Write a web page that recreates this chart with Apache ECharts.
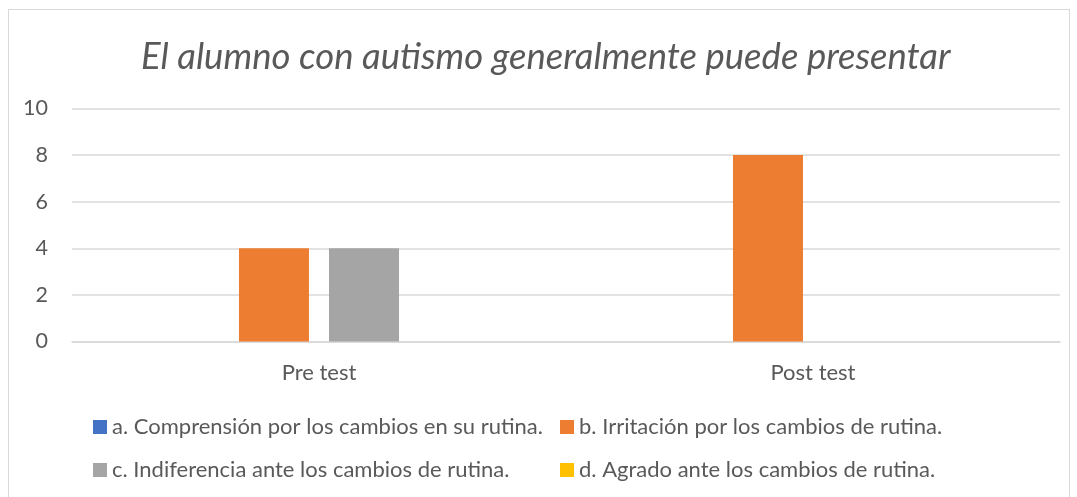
<!DOCTYPE html>
<html>
<head>
<meta charset="utf-8">
<script src="https://cdn.jsdelivr.net/npm/echarts@6/dist/echarts.min.js"></script>
<style>
  html, body { margin: 0; padding: 0; background: #fff; }
  #chart { width: 1077px; height: 497px; }
  .frame { position: absolute; left: 8px; top: 9px; width: 1062px; height: 500px; border: 1px solid #d9d9d9; box-sizing: border-box; pointer-events: none; }
</style>
</head>
<body>
<div id="chart"></div>
<div class="frame"></div>
<script>
// categorias y series
const categories = ['Pre test', 'Post test']
const seriesNames = [
  'a. Comprensión por los cambios en su rutina.',
  'b. Irritación por los cambios de rutina.',
  'c. Indiferencia ante los cambios de rutina.',
  'd. Agrado ante los cambios de rutina.'
]
const valuesA = [0, 0]
const valuesB = [4, 8]
const valuesC = [4, 0]
const valuesD = [0, 0]
const colors = ['#4472C4', '#ED7D31', '#A5A5A5', '#FFC000']

const font = 'Lato, Carlito, Calibri, sans-serif'
const textColor = '#595959'

const chartDom = echarts.init(document.getElementById('chart'))

const legendStyle = {
  orient: 'vertical',
  top: 416,
  padding: 0,
  itemWidth: 14,
  itemHeight: 14,
  itemGap: 21,
  icon: 'rect',
  textStyle: { color: textColor, fontSize: 22, lineHeight: 22, fontFamily: font }
}

const option = {
  color: colors,
  animation: false,
  title: {
    text: 'El alumno con autismo generalmente puede presentar',
    left: 136,
    top: 34,
    textStyle: { color: textColor, fontSize: 36.5, fontWeight: 'normal', fontStyle: 'italic', fontFamily: font }
  },
  legend: [
    Object.assign({ left: 93, data: [seriesNames[0], seriesNames[2]] }, legendStyle),
    Object.assign({ left: 560, data: [seriesNames[1], seriesNames[3]] }, legendStyle)
  ],
  grid: { left: 72, right: 17, top: 108.5, bottom: 155.5, containLabel: false },
  xAxis: {
    type: 'category',
    data: categories,
    axisLine: { lineStyle: { color: '#d9d9d9', width: 1.5 } },
    axisTick: { show: false },
    axisLabel: { color: textColor, fontSize: 22, fontFamily: font, margin: 20 }
  },
  yAxis: {
    type: 'value',
    min: 0,
    max: 10,
    interval: 2,
    axisLine: { show: false },
    axisTick: { show: false },
    splitLine: { lineStyle: { color: '#d9d9d9', width: 1.5 } },
    axisLabel: { color: textColor, fontSize: 21.5, fontFamily: font, margin: 24 }
  },
  series: [
    { name: seriesNames[0], type: 'bar', data: valuesA, barWidth: 70, barGap: '28.6%' },
    { name: seriesNames[1], type: 'bar', data: valuesB, barWidth: 70, barGap: '28.6%' },
    { name: seriesNames[2], type: 'bar', data: valuesC, barWidth: 70, barGap: '28.6%' },
    { name: seriesNames[3], type: 'bar', data: valuesD, barWidth: 70, barGap: '28.6%' }
  ]
}

chartDom.setOption(option)
</script>
</body>
</html>
